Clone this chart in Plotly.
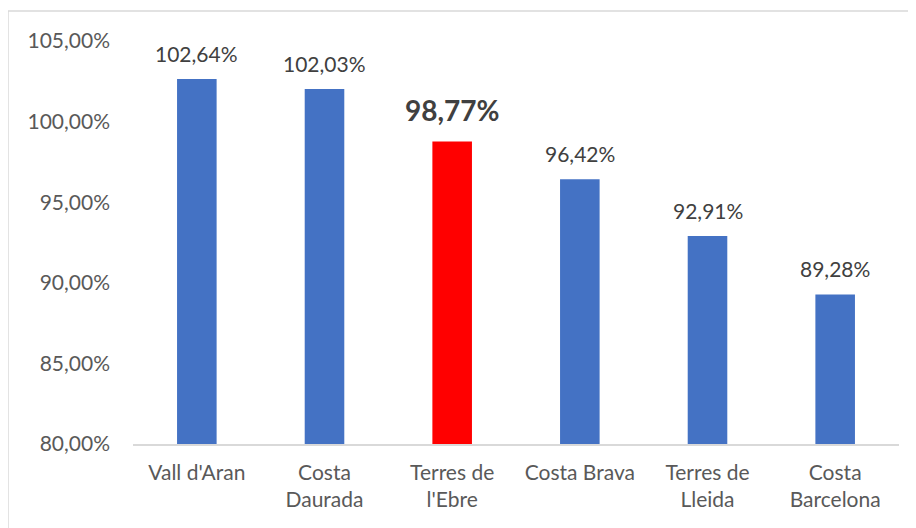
import plotly.graph_objects as go

categories = ["Vall d'Aran", "Costa<br>Daurada", "Terres de<br>l'Ebre", "Costa Brava", "Terres de<br>Lleida", "Costa<br>Barcelona"]
values = [102.64, 102.03, 98.77, 96.42, 92.91, 89.28]
highlight = "Terres de<br>l'Ebre"
tick_vals = [80, 85, 90, 95, 100, 105]
tick_text = [f"{t:.2f}".replace(".", ",") + "%" for t in tick_vals]

FONT = "Lato"
colors = ["#FF0000" if c == highlight else "#4472C4" for c in categories]

fig = go.Figure(go.Bar(x=categories, y=values, marker_color=colors, marker_line_width=0, width=0.31))

for c, v in zip(categories, values):
    lbl = f"{v:.2f}".replace(".", ",") + "%"
    hl = c == highlight
    fig.add_annotation(x=c, y=v, text=lbl, showarrow=False, yanchor="bottom",
                       yshift=12 if hl else 11,
                       font=dict(family=FONT, size=28 if hl else 21,
                                 color="#404040", weight="bold" if hl else "normal"),
                       )

fig.add_shape(type="rect", xref="paper", yref="paper", x0=-0.1632, y0=-0.4, x1=1.2, y1=1.0744,
              line=dict(color="#D9D9D9", width=1.5), fillcolor="rgba(0,0,0,0)", layer="below")

fig.update_layout(
    width=916, height=528,
    margin=dict(l=125, r=25, t=33, b=92),
    plot_bgcolor="white", paper_bgcolor="white",
    showlegend=False,
    font=dict(family=FONT, size=21, color="#595959"),
)
fig.update_yaxes(range=[80, 105], tickvals=tick_vals, ticktext=tick_text,
                 showgrid=False, zeroline=False, showline=False, ticklabelstandoff=22,
                 tickfont=dict(family=FONT, size=21, color="#595959"))
fig.update_xaxes(showline=True, linecolor="#D9D9D9", linewidth=1.5, showgrid=False,
                 tickfont=dict(family=FONT, size=21, color="#595959"), ticklabelstandoff=9)

fig.write_html("out.html")
